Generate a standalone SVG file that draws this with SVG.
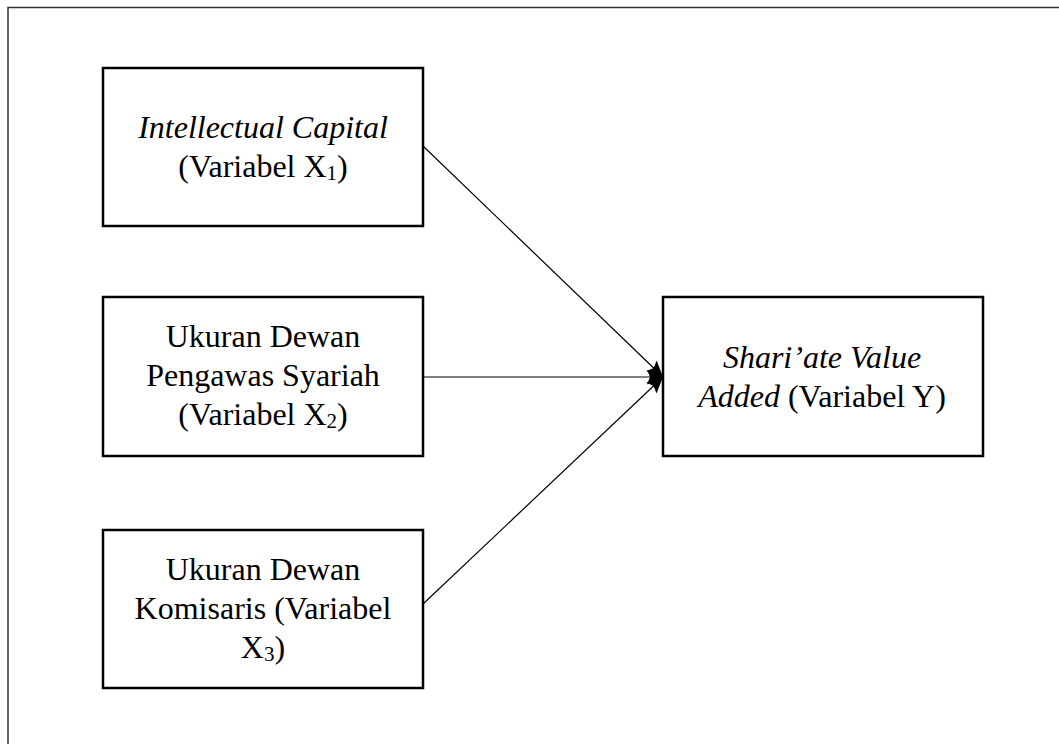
<svg xmlns="http://www.w3.org/2000/svg" width="1059" height="744" viewBox="0 0 1059 744">
<defs>
<style>
.box{fill:#fff;stroke:#000;stroke-width:2.5}
.t{font-family:"Liberation Serif","Times New Roman",serif;font-size:32px;fill:#000;text-anchor:middle}
.i{font-style:italic}
.sub{font-size:21px}
.c{stroke:#000;stroke-width:1.2;fill:none}
</style>
<marker id="ah" markerUnits="userSpaceOnUse" markerWidth="18" markerHeight="16" refX="16" refY="7.5" orient="auto">
<path d="M0,0 L16,7.5 L0,15 L3,7.5 Z" fill="#000"/>
</marker>
</defs>
<rect x="8" y="7.5" width="1100" height="800" fill="none" stroke="#333" stroke-width="1.5"/>
<g id="connectors">
<line class="c" x1="423" y1="146" x2="663" y2="377" marker-end="url(#ah)"/>
<line class="c" x1="423" y1="377" x2="663" y2="377" marker-end="url(#ah)"/>
<line class="c" x1="423" y1="604" x2="663" y2="377" marker-end="url(#ah)"/>
</g>
<g id="x1">
<rect class="box" x="103" y="68" width="320" height="158"/>
<text class="t" x="263" y="138"><tspan class="i">Intellectual Capital</tspan></text>
<text class="t" x="263" y="177">(Variabel X<tspan class="sub" dy="3">1</tspan><tspan dy="-3">)</tspan></text>
</g>
<g id="x2">
<rect class="box" x="103" y="297" width="320" height="159"/>
<text class="t" x="263" y="347">Ukuran Dewan</text>
<text class="t" x="263" y="386">Pengawas Syariah</text>
<text class="t" x="263" y="425">(Variabel X<tspan class="sub" dy="3">2</tspan><tspan dy="-3">)</tspan></text>
</g>
<g id="x3">
<rect class="box" x="103" y="530" width="320" height="158"/>
<text class="t" x="263" y="580">Ukuran Dewan</text>
<text class="t" x="263" y="619">Komisaris (Variabel</text>
<text class="t" x="263" y="658">X<tspan class="sub" dy="3">3</tspan><tspan dy="-3">)</tspan></text>
</g>
<g id="y">
<rect class="box" x="663" y="297" width="320" height="159"/>
<text class="t" x="822" y="368"><tspan class="i">Shari’ate Value</tspan></text>
<text class="t" x="822" y="407"><tspan class="i">Added</tspan> (Variabel Y)</text>
</g>
</svg>
